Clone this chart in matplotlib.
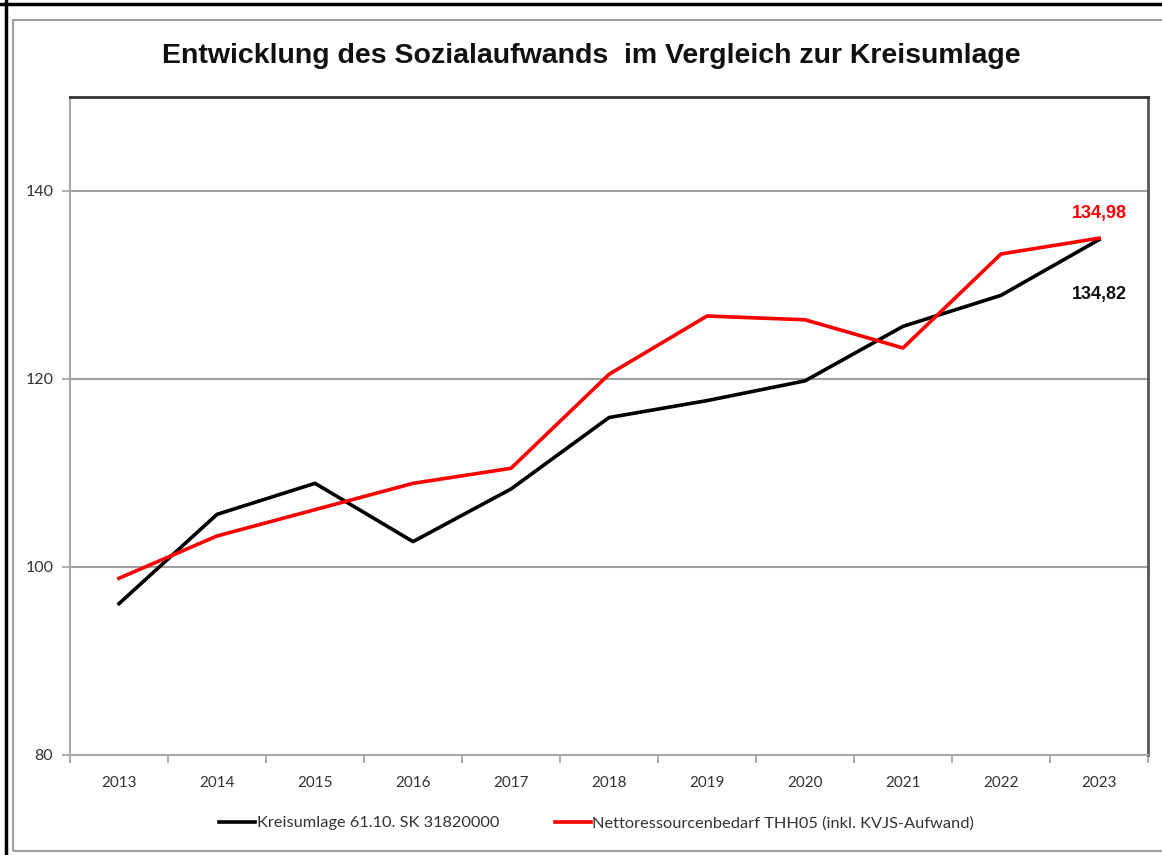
import matplotlib
matplotlib.use("Agg")
import matplotlib.pyplot as plt
from matplotlib.patches import Rectangle
from matplotlib.lines import Line2D

years = ["2013", "2014", "2015", "2016", "2017", "2018", "2019", "2020", "2021", "2022", "2023"]
kreisumlage = [96.1, 105.6, 108.9, 102.7, 108.3, 115.9, 117.7, 119.8, 125.6, 128.9, 134.82]
netto = [98.8, 103.3, 106.1, 108.9, 110.5, 120.5, 126.7, 126.3, 123.3, 133.3, 134.98]
label_k = "Kreisumlage 61.10. SK 31820000"
label_n = "Nettoressourcenbedarf THH05 (inkl. KVJS-Aufwand)"
title = "Entwicklung des Sozialaufwands  im Vergleich zur Kreisumlage"

W, H = 1162, 855
fig = plt.figure(figsize=(W / 100, H / 100), dpi=100)
fig.patch.set_facecolor("white")

# outer borders
fig.add_artist(Line2D([0, 1], [1 - 4.5 / H] * 2, color="black", lw=2.5, transform=fig.transFigure))
fig.add_artist(Line2D([5.5 / W] * 2, [0, 1], color="black", lw=2.5, transform=fig.transFigure))
fig.add_artist(Rectangle((13 / W, 1 - 851 / H), 1.2, (851 - 20) / H, transform=fig.transFigure,
                         fill=False, edgecolor="#a0a0a0", lw=1.5))

ax = fig.add_axes([70 / W, 1 - 755 / H, (1148 - 70) / W, (755 - 97) / H])
x = list(range(len(years)))
ax.plot(x, kreisumlage, color="black", lw=2.6, label=label_k, solid_joinstyle="round")
ax.plot(x, netto, color="#ff0000", lw=2.6, label=label_n, solid_joinstyle="round")

ax.set_xlim(-0.5, len(years) - 0.5)
ax.set_ylim(80, 150)
ax.set_yticks([80, 100, 120, 140])
ax.set_xticks(x)
ax.set_xticklabels(years, fontfamily="Lato", fontsize=11, color="#333333")
ax.set_xticks([i - 0.5 for i in range(len(years) + 1)], minor=True)
ax.tick_params(axis="x", which="major", length=0, pad=15)
ax.tick_params(axis="x", which="minor", length=6, width=1.2, color="#a0a0a0", direction="out")
ax.tick_params(axis="y", length=6, width=1.2, color="#a0a0a0", direction="out", pad=6)
for lbl in ax.get_yticklabels():
    lbl.set_fontfamily("Lato")
    lbl.set_fontsize(11.5)
    lbl.set_color("#333333")

for v in [100, 120, 140]:
    ax.axhline(v, color="#a0a0a0", lw=1.5, zorder=0)

ax.spines["left"].set_color("#a8a8a8")
ax.spines["left"].set_linewidth(1.5)
ax.spines["bottom"].set_color("#a8a8a8")
ax.spines["bottom"].set_linewidth(1.5)
ax.spines["top"].set_color("#333333")
ax.spines["top"].set_linewidth(2)
ax.spines["right"].set_color("#555555")
ax.spines["right"].set_linewidth(2)

ax.annotate("134,98", (x[-1], netto[-1]), xytext=(0, 12), textcoords="offset points",
            ha="center", va="bottom", color="#ff0000", fontsize=13, fontweight="bold",
            fontfamily="Liberation Sans")
ax.annotate("134,82", (x[-1], kreisumlage[-1]), xytext=(0, -33), textcoords="offset points",
            ha="center", va="top", color="#111111", fontsize=13, fontweight="bold",
            fontfamily="Liberation Sans")

fig.text(0.5 * (163 + 1020) / W, 1 - 56 / H, title, ha="center", va="center",
         fontsize=20.5, fontweight="bold", fontfamily="Liberation Sans", color="#111111")

leg = fig.legend(loc="center left", bbox_to_anchor=(219 / W, 1 - 823 / H), ncol=2, frameon=False,
                 handlelength=2.2, handletextpad=0.1, columnspacing=3.4, borderpad=0,
                 borderaxespad=0, prop={"family": "Lato", "size": 11.8})
for t in leg.get_texts():
    t.set_color("#333333")

fig.savefig("out.png", dpi=100, facecolor="white")
